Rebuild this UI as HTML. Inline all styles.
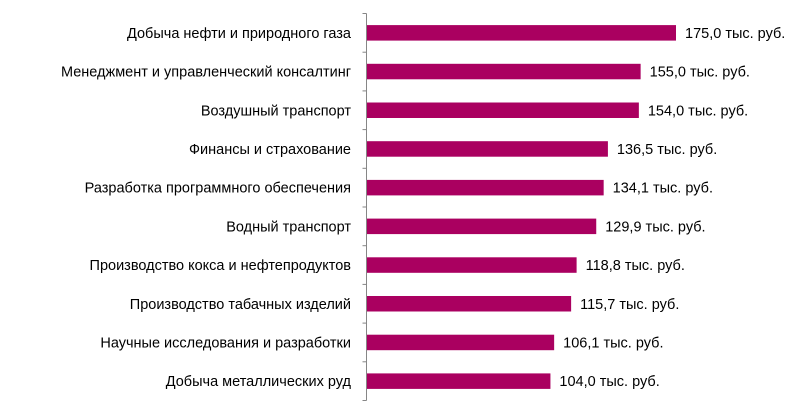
<!DOCTYPE html>
<html><head><meta charset="utf-8"><style>
html,body{margin:0;padding:0;background:#fff;}
svg{display:block;font-family:"Liberation Sans",Arial,sans-serif;}
</style></head><body>
<svg id="chart" width="807" height="416"></svg>
<script>
const categories = ["Добыча нефти и природного газа","Менеджмент и управленческий консалтинг","Воздушный транспорт","Финансы и страхование","Разработка программного обеспечения","Водный транспорт","Производство кокса и нефтепродуктов","Производство табачных изделий","Научные исследования и разработки","Добыча металлических руд"];
const values = [175.0,155.0,154.0,136.5,134.1,129.9,118.8,115.7,106.1,104.0];
const valueLabels = ["175,0 тыс. руб.","155,0 тыс. руб.","154,0 тыс. руб.","136,5 тыс. руб.","134,1 тыс. руб.","129,9 тыс. руб.","118,8 тыс. руб.","115,7 тыс. руб.","106,1 тыс. руб.","104,0 тыс. руб."];

const svgEl = document.getElementById('chart');
const NS = 'http://www.w3.org/2000/svg';
const x0 = 366.5, pxPer = 309.5/175, topY = 13.5, bottomY = 400.5;
const band = (bottomY - topY) / categories.length;
const xS = v => x0 + v * pxPer;
const yS = i => topY + i * band;
function mk(tag, attrs){const e=document.createElementNS(NS,tag);for(const k in attrs)e.setAttribute(k,attrs[k]);svgEl.appendChild(e);return e;}

const axis = mk('line',{x1:x0,y1:topY,x2:x0,y2:bottomY,stroke:'#868686','stroke-width':1});


for(let i=0;i<=categories.length;i++){
  const t = mk('line',{x1:x0-4,y1:yS(i),x2:x0,y2:yS(i),stroke:'#868686','stroke-width':1});
  
  
}
categories.forEach((c,i)=>{
  const cy = yS(i) + band/2;
  const bh = 15.5;
  const r = mk('rect',{x:x0+0.5,y:cy-bh/2,width:xS(values[i])-x0-0.5,height:bh,fill:'#AA0060'});
  
  
  const l = mk('text',{x:351,y:cy+5,'text-anchor':'end','font-size':'14.5px',fill:'#000'});
  l.textContent = c;
  
  
  const v = mk('text',{x:xS(values[i])+9,y:cy+5,'font-size':'14.5px',fill:'#000'});
  v.textContent = valueLabels[i];
  
  
});
</script>
</body></html>
